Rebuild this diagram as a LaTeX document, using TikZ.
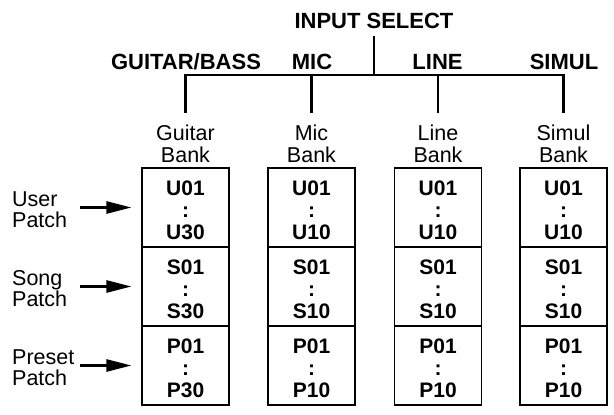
\documentclass[tikz,border=0pt]{standalone}
\usepackage{fontspec}
\setmainfont{Liberation Sans}
\usetikzlibrary{arrows.meta}
\begin{document}
\begin{tikzpicture}[x=1pt,y=-1pt,
  hdr/.style={font=\fontsize{22}{22}\selectfont\bfseries, inner sep=0, anchor=base},
  lbl/.style={font=\fontsize{21.5}{22}\selectfont, inner sep=0, anchor=base},
  cell/.style={font=\fontsize{21}{22}\selectfont\bfseries, inner sep=0, anchor=base},
  sec/.style={draw, line width=1.1pt, minimum width=87pt, minimum height=79pt, inner sep=0},
  tree/.style={line width=2.2pt, line join=miter},
  arr/.style={line width=2.5pt, -{Triangle[length=25pt,width=12pt]}}]
\useasboundingbox (0,0) rectangle (614,415);
% header
\node[hdr] (insel) at (374,28) {INPUT SELECT};
\coordinate (vtop) at (374,36);
\coordinate (hub) at (374,75);
\draw[tree] (vtop) -- (hub);
% branch labels
\node[hdr] (lab-g) at (186,69) {GUITAR/BASS};
\node[hdr] (lab-m) at (312,69) {MIC};
\node[hdr] (lab-l) at (437.5,69) {LINE};
\node[hdr] (lab-s) at (564,69) {SIMUL};
% columns
\foreach \cx/\n/\nm/\k in {185.5/g/Guitar/30, 311.5/m/Mic/10, 438/l/Line/10, 563.5/s/Simul/10} {
  \coordinate (h-\n) at (\cx,75);
  \coordinate (d-\n) at (\cx,113);
  \node[lbl] (\n-name) at (\cx,140) {\nm};
  \node[lbl] (\n-bank) at (\cx,162) {Bank};
  \foreach \L/\ty in {U/168, S/247, P/326} {
    \node[sec] (\n-\L) at (\cx,\ty+39.5) {};
    \node[cell] (\n-\L-a) at (\cx,\ty+27) {\L01};
    \node[cell] (\n-\L-b) at (\cx,\ty+49.5) {:};
    \node[cell] (\n-\L-c) at (\cx,\ty+71.5) {\L\k};
  }
}
\draw[tree] (d-g) -- (h-g) -- (h-s) -- (d-s);
\draw[tree] (h-m) -- (d-m);
\draw[tree] (h-l) -- (d-l);
% left labels and arrows
\foreach \L/\a/\cy in {U/User/207.5, S/Song/286.5, P/Preset/365.5} {
  \node[lbl, anchor=base west] (\L-l1) at (12,\cy-1) {\a};
  \node[lbl, anchor=base west] (\L-l2) at (12,\cy+20) {Patch};
  \coordinate (\L-tail) at (80,\cy);
  \draw[arr] (\L-tail) -- ([xshift=-10pt]g-\L.west);
}
\end{tikzpicture}
\end{document}
